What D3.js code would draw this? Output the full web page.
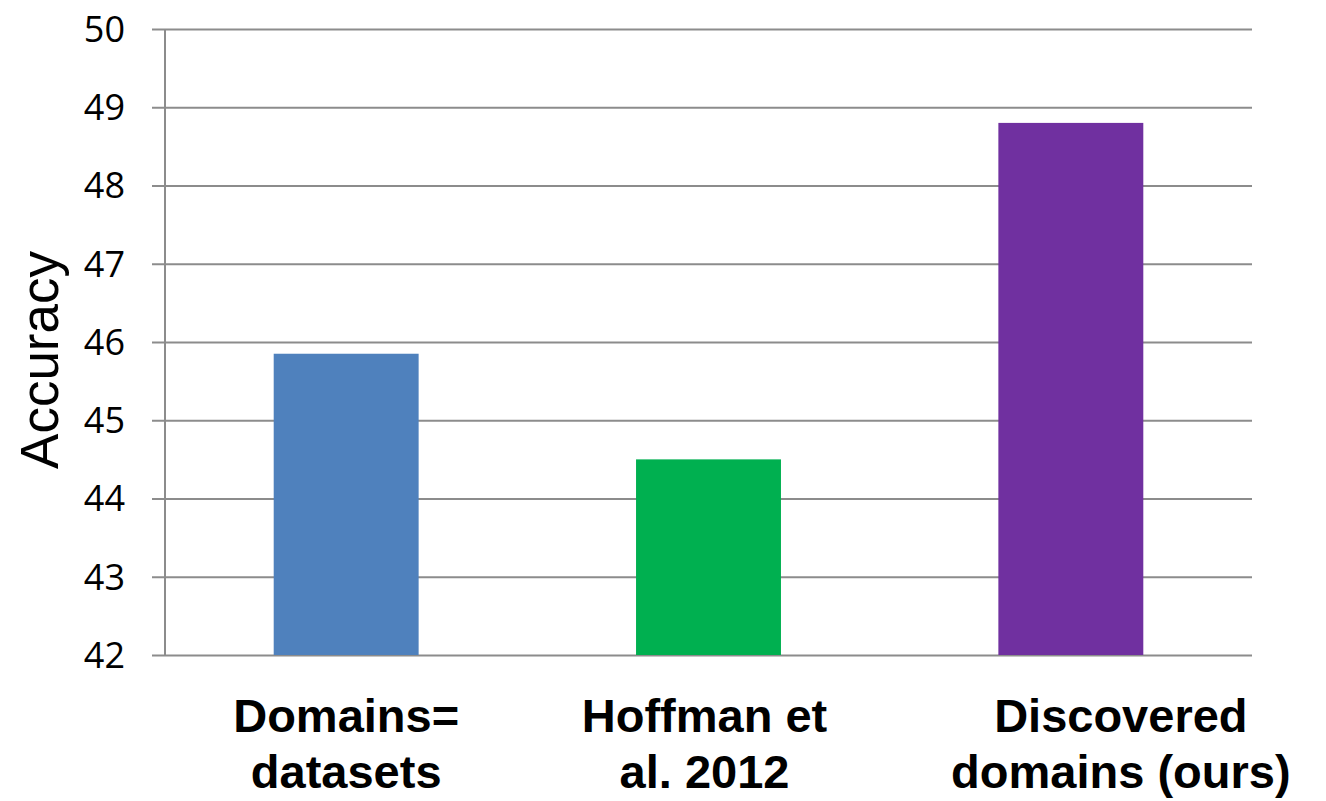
<!DOCTYPE html>
<html>
<head>
<meta charset="utf-8">
<script src="https://cdn.jsdelivr.net/npm/d3@7"></script>
<style>
  html, body { margin: 0; padding: 0; background: #fff; }
  svg { display: block; }
</style>
</head>
<body>
<svg id="chart" width="1326" height="801"></svg>
<script>
// Chart data
const categories = [
  ["Domains=", "datasets"],
  ["Hoffman et", "al. 2012"],
  ["Discovered", "domains (ours)"]
];
const accuracy = [45.85, 44.5, 48.8];
const barColors = ["#4F81BD", "#00B050", "#7030A0"];
const yTicks = [42, 43, 44, 45, 46, 47, 48, 49, 50];
const yTitle = "Accuracy";

const svg = d3.select("#chart");
const plotLeft = 165, plotRight = 1252, plotTop = 29, plotBottom = 655;

const keys = categories.map(c => c.join(" "));
const x = d3.scaleBand()
  .domain(keys)
  .range([plotLeft, plotRight])
  .paddingInner(0.6)
  .paddingOuter(0.3);

const y = d3.scaleLinear().domain([42, 50]).range([plotBottom, plotTop]);

const gridColor = "#8c8c8c";

// horizontal gridlines with short outer ticks
const yAxis = d3.axisLeft(y)
  .tickValues(yTicks)
  .tickSize(-(plotRight - plotLeft))
  .tickFormat("");
const gy = svg.append("g").attr("transform", `translate(${plotLeft},0)`).call(yAxis);
gy.select(".domain").remove();
gy.selectAll(".tick line")
  .attr("x1", -13)
  .attr("stroke", gridColor)
  .attr("stroke-width", 2);

// vertical axis line
svg.append("line")
  .attr("x1", plotLeft).attr("x2", plotLeft)
  .attr("y1", plotTop).attr("y2", plotBottom)
  .attr("stroke", gridColor).attr("stroke-width", 2);

// tick labels
svg.append("g").selectAll("text")
  .data(yTicks)
  .join("text")
  .attr("x", 125)
  .attr("y", d => y(d))
  .attr("dy", "0.36em")
  .attr("text-anchor", "end")
  .attr("font-family", "'Open Sans', sans-serif")
  .attr("font-size", 36)
  .attr("fill", "#000")
  .text(d => d);

// bars
svg.append("g").selectAll("rect")
  .data(accuracy)
  .join("rect")
  .attr("x", (d, i) => x(keys[i]))
  .attr("width", x.bandwidth())
  .attr("y", d => y(d))
  .attr("height", d => y(42) - y(d))
  .attr("fill", (d, i) => barColors[i]);

// category labels (two lines, bold)
const labelShift = [0, -4, 50];
const lab = svg.append("g").selectAll("text")
  .data(categories)
  .join("text")
  .attr("text-anchor", "middle")
  .attr("font-family", "'Liberation Sans', Arial, sans-serif")
  .attr("font-weight", "bold")
  .attr("font-size", 47)
  .attr("fill", "#000")
  .attr("transform", (d, i) => `translate(${x(keys[i]) + x.bandwidth() / 2 + labelShift[i]},732)`);
lab.selectAll("tspan")
  .data(d => d)
  .join("tspan")
  .attr("x", 0)
  .attr("y", (d, j) => j * 56)
  .text(d => d);

// y axis title
svg.append("text")
  .attr("transform", "translate(58,360) rotate(-90)")
  .attr("text-anchor", "middle")
  .attr("font-family", "'Liberation Sans', Arial, sans-serif")
  .attr("font-size", 53)
  .attr("fill", "#000")
  .text(yTitle);
</script>
</body>
</html>
